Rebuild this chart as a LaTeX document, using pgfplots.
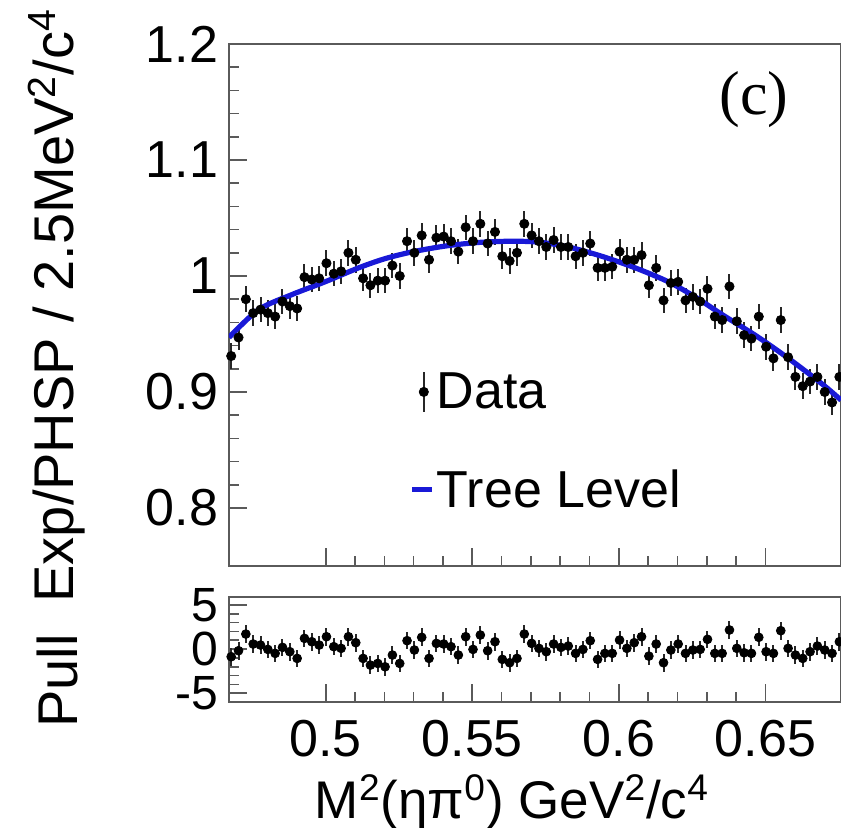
\documentclass[border=0pt]{standalone}
\usepackage{pgfplots}
\pgfplotsset{compat=1.18}
\usepackage{pgfplotstable}
\usepackage{fontspec}
\setmainfont{Liberation Sans}
\newfontfamily\timesfont{Liberation Serif}
\definecolor{fitblue}{RGB}{25,25,215}
\definecolor{framegray}{RGB}{90,90,90}

\pgfplotstableread{
x y pull
0.46775 0.931 -0.87
0.47025 0.947 -0.19
0.47275 0.980 1.70
0.47525 0.968 0.57
0.47775 0.971 0.45
0.48025 0.968 -0.04
0.48275 0.965 -0.49
0.48525 0.978 0.19
0.48775 0.974 -0.30
0.49025 0.972 -1.06
0.49275 0.999 1.21
0.49525 0.997 0.83
0.49775 0.998 0.45
0.50025 1.011 1.40
0.50275 1.002 0.27
0.50525 1.004 0.08
0.50775 1.020 1.40
0.51025 1.014 0.72
0.51275 0.998 -1.06
0.51525 0.992 -1.82
0.51775 0.996 -1.63
0.52025 0.996 -2.01
0.52275 1.009 -0.68
0.52525 1.000 -1.63
0.52775 1.030 0.95
0.53025 1.020 -0.11
0.53275 1.035 1.33
0.53525 1.014 -1.06
0.53775 1.033 0.64
0.54025 1.034 0.57
0.54275 1.030 0.27
0.54525 1.021 -0.68
0.54775 1.042 1.40
0.55025 1.030 -0.04
0.55275 1.045 1.59
0.55525 1.028 -0.19
0.55775 1.038 0.83
0.56025 1.017 -1.17
0.56275 1.013 -1.55
0.56525 1.020 -1.06
0.56775 1.045 1.70
0.57025 1.035 0.64
0.57275 1.030 0.08
0.57525 1.025 -0.30
0.57775 1.031 0.57
0.58025 1.025 0.19
0.58275 1.025 0.34
0.58525 1.017 -0.49
0.58775 1.020 -0.04
0.59025 1.028 0.95
0.59275 1.007 -1.17
0.59525 1.007 -0.49
0.59775 1.008 -0.49
0.60025 1.021 1.02
0.60275 1.014 0.08
0.60525 1.014 0.72
0.60775 1.018 1.40
0.61025 0.992 -0.80
0.61275 1.007 0.57
0.61525 0.979 -1.55
0.61775 0.994 -0.11
0.62025 0.995 0.57
0.62275 0.979 -0.49
0.62525 0.982 -0.11
0.62775 0.978 -0.04
0.63025 0.989 1.10
0.63275 0.965 -0.49
0.63525 0.962 -0.49
0.63775 0.991 2.16
0.64025 0.961 0.08
0.64275 0.949 -0.42
0.64525 0.946 -0.49
0.64775 0.965 1.33
0.65025 0.939 -0.30
0.65275 0.929 -0.49
0.65525 0.962 2.08
0.65775 0.930 0.08
0.66025 0.913 -0.68
0.66275 0.905 -1.06
0.66525 0.909 -0.30
0.66775 0.913 0.34
0.67025 0.900 -0.11
0.67275 0.891 -0.49
0.67525 0.913 0.83
}\datatable

\begin{document}
\begin{tikzpicture}
\path[use as bounding box] (-114.5pt,-131pt) rectangle (306pt,283pt);
\pgfplotsset{
  every axis/.append style={
    scale only axis,
    width=306pt,
    xmin=0.467, xmax=0.6758,
    axis line style={framegray, line width=0.8pt},
    tick align=inside,
    xtick pos=bottom, ytick pos=left,
    major tick length=9pt, minor tick length=5pt,
    every tick/.style={framegray, line width=0.8pt},
    tick label style={font=\fontsize{26}{30}\selectfont},
    /pgf/number format/assume math mode=true,
    xtick={0.5,0.55,0.6,0.65},
    minor x tick num=4,
  }
}
\begin{axis}[
  name=main,
  at={(0pt,0pt)}, anchor=south west,
  height=261pt,
  ymin=0.75, ymax=1.2,
  ytick={0.8,0.9,1.0,1.1,1.2},
  yticklabels={0.8,0.9,1,1.1,1.2},
  minor y tick num=4,
  xticklabels={},
  yticklabel style={xshift=-2pt},
  legend style={at={(0.285,0.095)}, anchor=south west, draw=none, fill=none,
    font=\fontsize{26}{30}\selectfont, row sep=27pt,
    nodes={inner sep=1pt}},
  legend cell align=left,
]
\addplot[only marks, mark=*, mark size=2.3pt, black,
  legend image code/.code={
    \draw[line width=1pt, black!85] (0.4cm,-10pt) -- (0.4cm,10pt);
    \fill[black] (0.4cm,0pt) circle (2.3pt);},
  error bars/.cd, y dir=both, y fixed=0.011,
  error bar style={line width=1pt, black!85}, error mark=none]
  table[x=x, y=y] {\datatable};
\addlegendentry{Data}
\addplot[fitblue, line width=2.6pt, smooth,
  legend image code/.code={\draw[fitblue, line width=2.6pt] (0.2cm,0cm) -- (0.55cm,0cm);}]
  coordinates {
(0.4670,0.947) (0.4771,0.971) (0.4885,0.984) (0.4998,0.995) (0.5112,1.007)
(0.5203,1.015) (0.5299,1.021) (0.5413,1.026) (0.5527,1.029) (0.5641,1.030)
(0.5732,1.029) (0.5828,1.025) (0.5942,1.017) (0.6056,1.007) (0.6169,0.995)
(0.6260,0.982) (0.6357,0.966) (0.6471,0.948) (0.6584,0.928) (0.6698,0.906)
(0.6758,0.893)};
\addlegendentry{Tree Level}
\node[font=\timesfont\fontsize{31}{36}\selectfont] at (rel axis cs:0.858,0.893) {(c)};
\end{axis}
\begin{axis}[
  name=pull,
  at={(0pt,-15.5pt)}, anchor=north west,
  height=52.5pt,
  ymin=-6, ymax=5.9,
  ytick={-5,0,5},
  yticklabels={-5,0,5},
  minor y tick num=4,
  xticklabels={0.5,0.55,0.6,0.65},
  xticklabel style={yshift=-8pt, inner sep=1pt},
  yticklabel style={xshift=-2pt, font=\fontsize{24}{28}\selectfont},
]
\addplot[only marks, mark=*, mark size=2.2pt, black,
  error bars/.cd, y dir=both, y fixed=1,
  error bar style={line width=1pt, black!85}, error mark=none]
  table[x=x, y=pull] {\datatable};
\end{axis}
\node[inner sep=0pt, font=\fontsize{26.5}{30}\selectfont] at (141.5pt,-118pt)
  {M\textsuperscript{2}(ηπ\textsuperscript{0}) GeV\textsuperscript{2}/c\textsuperscript{4}};
\node[rotate=90, anchor=east, font=\fontsize{28}{32}\selectfont] at (-86pt,282pt)
  {Exp/PHSP / 2.5MeV\textsuperscript{2}/c\textsuperscript{4}};
\node[rotate=90, font=\fontsize{28}{32}\selectfont] at (-86pt,-57.5pt) {Pull};
\end{tikzpicture}
\end{document}
